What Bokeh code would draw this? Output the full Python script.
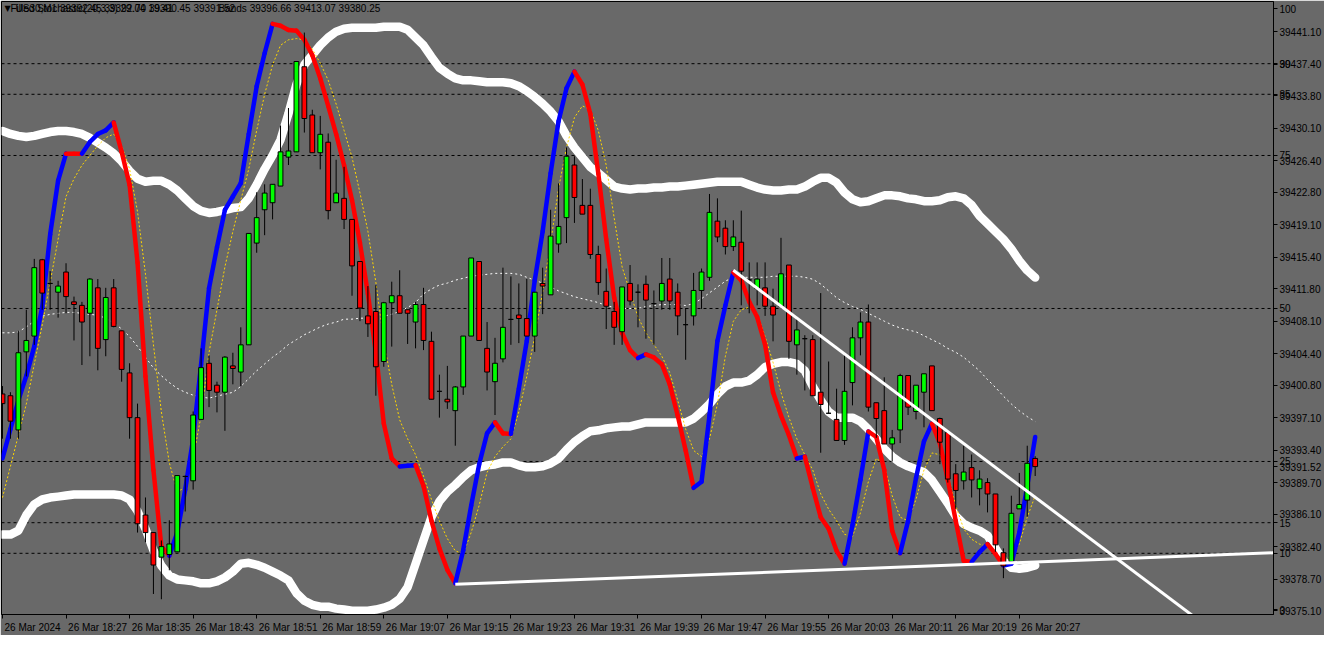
from bokeh.plotting import figure
from bokeh.models import Range1d, FixedTicker, NumeralTickFormatter, Span, Label
from bokeh.embed import file_html
from bokeh.resources import INLINE

BG = "#696969"
FONT = "Liberation Sans"

# ---------------- data (US30, M1, 26 Mar 2024 18:19 .. 20:29) ----------------
open_ = [39399.8, 39399.6, 39395.7, 39404.6, 39406.4, 39415.1, 39412.4, 39411.4, 39413.7, 39410.3,
         39409.9, 39409.0, 39411.9, 39406.0, 39411.9, 39407.0, 39402.2, 39397.1, 39386.0, 39384.0,
         39381.2, 39381.5, 39381.8, 39390.4, 39389.9, 39396.9, 39403.3, 39400.8, 39400.0, 39403.0,
         39402.3, 39405.4, 39417.0, 39420.8, 39421.6, 39423.5, 39426.8, 39427.4, 39437.1, 39431.6,
         39427.3, 39428.5, 39421.6, 39422.1, 39419.7, 39414.9, 39408.7, 39409.2, 39403.5, 39410.2,
         39411.0, 39409.4, 39408.0, 39410.0, 39405.8, 39400.1, 39399.2, 39397.9, 39400.6, 39406.4,
         39414.9, 39405.0, 39401.2, 39403.8, 39408.3, 39408.8, 39408.4, 39406.4, 39412.4, 39411.1,
         39416.9, 39419.9, 39425.9, 39421.3, 39421.3, 39415.7, 39411.5, 39409.2, 39406.9, 39412.4,
         39411.4, 39412.3, 39410.1, 39410.4, 39412.9, 39411.4, 39407.7, 39408.7, 39411.6, 39413.1,
         39419.5, 39418.7, 39416.6, 39417.1, 39412.8, 39411.8, 39411.9, 39409.8, 39409.8, 39414.5,
         39405.4, 39406.1, 39406.0, 39400.0, 39397.6, 39396.9, 39394.5, 39401.1, 39406.2, 39408.0,
         39398.8, 39397.9, 39394.1, 39395.7, 39401.9, 39397.8, 39400.0, 39403.0, 39397.0, 39395.4,
         39390.7, 39389.9, 39391.4, 39389.0, 39389.7, 39388.4, 39381.7, 39380.7, 39386.7, 39387.7,
         39392.45]
high_ = [39400.7, 39400.0, 39407.0, 39409.4, 39415.2, 39415.2, 39413.8, 39412.7, 39414.7, 39410.9,
         39410.3, 39413.0, 39412.9, 39411.9, 39412.9, 39407.0, 39403.3, 39398.7, 39388.0, 39384.0,
         39383.1, 39385.4, 39390.5, 39390.5, 39397.8, 39405.0, 39404.2, 39401.2, 39404.1, 39404.5,
         39407.4, 39418.1, 39422.8, 39423.7, 39423.7, 39430.4, 39432.4, 39437.7, 39441.0, 39432.2,
         39431.5, 39429.5, 39426.5, 39425.7, 39419.7, 39414.9, 39412.1, 39412.2, 39410.3, 39412.6,
         39413.9, 39409.4, 39410.3, 39411.9, 39406.9, 39402.0, 39403.0, 39400.7, 39406.4, 39415.3,
         39414.9, 39408.0, 39406.2, 39414.2, 39413.2, 39412.4, 39412.9, 39411.4, 39414.2, 39420.8,
         39423.8, 39427.9, 39426.9, 39424.3, 39423.2, 39416.7, 39414.1, 39410.3, 39412.0, 39414.5,
         39412.3, 39413.3, 39411.6, 39415.3, 39415.3, 39412.4, 39409.6, 39413.6, 39414.1, 39422.6,
         39422.1, 39419.6, 39419.6, 39420.7, 39414.8, 39414.8, 39414.8, 39411.8, 39417.6, 39414.5,
         39408.4, 39406.5, 39406.5, 39411.3, 39403.5, 39400.4, 39404.3, 39407.4, 39409.1, 39410.0,
         39398.8, 39401.7, 39395.7, 39402.1, 39401.9, 39400.8, 39402.1, 39403.0, 39397.1, 39395.4,
         39391.8, 39393.9, 39392.9, 39391.1, 39390.2, 39388.4, 39382.2, 39388.2, 39390.8, 39393.9,
         39392.70]
low_ = [39394.7, 39394.7, 39394.7, 39401.8, 39405.4, 39409.4, 39409.4, 39408.5, 39409.0, 39405.9,
        39403.1, 39404.1, 39402.5, 39404.1, 39407.4, 39401.2, 39394.7, 39384.0, 39382.9, 39377.0,
        39376.4, 39379.7, 39381.8, 39386.4, 39388.9, 39396.9, 39398.3, 39397.7, 39395.6, 39400.9,
        39400.7, 39405.4, 39415.9, 39417.9, 39419.7, 39423.5, 39425.9, 39427.4, 39429.6, 39427.3,
        39425.4, 39419.7, 39421.6, 39418.6, 39411.0, 39408.1, 39406.3, 39399.6, 39402.9, 39405.2,
        39409.0, 39405.5, 39405.0, 39404.8, 39399.2, 39397.1, 39398.1, 39393.9, 39399.7, 39406.4,
        39405.9, 39400.2, 39397.4, 39403.4, 39405.4, 39405.6, 39406.4, 39404.6, 39408.9, 39411.1,
        39415.9, 39417.0, 39419.3, 39420.3, 39415.2, 39411.1, 39407.2, 39405.4, 39405.4, 39409.9,
        39407.4, 39406.1, 39405.4, 39409.4, 39409.4, 39406.5, 39403.7, 39407.6, 39409.5, 39412.7,
        39417.1, 39415.7, 39416.1, 39409.9, 39409.0, 39409.9, 39408.7, 39405.8, 39409.8, 39403.8,
        39402.0, 39400.2, 39399.6, 39393.1, 39397.6, 39394.5, 39394.0, 39398.5, 39404.2, 39397.8,
        39394.8, 39394.1, 39392.1, 39394.2, 39397.4, 39396.9, 39396.0, 39397.9, 39391.8, 39389.7,
        39386.7, 39388.9, 39388.0, 39387.1, 39386.3, 39381.8, 39378.8, 39380.7, 39386.7, 39385.8,
        39390.45]
close_ = [39398.7, 39396.7, 39404.5, 39405.9, 39414.2, 39411.3, 39412.4, 39412.1, 39410.9, 39410.0,
          39408.0, 39412.9, 39405.0, 39410.8, 39407.5, 39402.6, 39397.1, 39385.0, 39384.0, 39380.3,
          39382.4, 39382.7, 39390.5, 39390.4, 39397.4, 39402.8, 39400.2, 39400.0, 39404.0, 39402.7,
          39405.4, 39418.1, 39419.9, 39422.7, 39423.7, 39427.4, 39427.5, 39437.7, 39431.2, 39427.3,
          39429.4, 39420.7, 39422.7, 39419.7, 39414.4, 39409.6, 39407.8, 39402.9, 39410.2, 39411.0,
          39409.0, 39409.0, 39410.0, 39405.9, 39399.2, 39400.1, 39398.9, 39400.6, 39406.4, 39415.3,
          39405.9, 39402.3, 39403.3, 39407.4, 39408.3, 39408.4, 39406.4, 39411.4, 39412.1, 39417.8,
          39418.9, 39426.9, 39422.2, 39420.3, 39415.7, 39412.5, 39409.8, 39407.4, 39412.0, 39410.4,
          39411.4, 39410.5, 39410.1, 39412.4, 39410.4, 39408.7, 39407.7, 39411.6, 39413.7, 39420.5,
          39417.7, 39416.6, 39417.7, 39413.8, 39412.8, 39412.9, 39409.8, 39408.8, 39413.5, 39405.8,
          39407.1, 39406.1, 39399.6, 39398.6, 39397.6, 39394.5, 39400.1, 39406.2, 39408.0, 39398.3,
          39397.0, 39394.1, 39394.8, 39401.9, 39398.3, 39400.8, 39402.1, 39397.9, 39394.3, 39390.1,
          39388.8, 39390.9, 39390.0, 39390.1, 39388.4, 39382.6, 39380.2, 39386.2, 39387.2, 39391.9,
          39391.52]

# Bollinger bands (upper / middle / lower)
band_upper = [39429.77, 39429.44, 39429.22, 39429.10, 39429.22, 39429.44, 39429.66, 39429.77, 39429.77, 39429.66,
              39429.44, 39428.99, 39428.44, 39427.88, 39427.22, 39426.33, 39425.22, 39424.33, 39423.99, 39424.10,
              39424.10, 39423.66, 39422.99, 39422.10, 39421.22, 39420.66, 39420.44, 39420.55, 39420.77, 39420.99,
              39421.10, 39422.10, 39423.66, 39425.44, 39426.99, 39428.77, 39431.77, 39435.10, 39437.33, 39438.44,
              39439.55, 39440.44, 39441.10, 39441.44, 39441.55, 39441.55, 39441.55, 39441.55, 39441.66, 39441.66,
              39441.66, 39441.33, 39440.44, 39439.55, 39438.22, 39436.99, 39436.33, 39435.77, 39435.55, 39435.55,
              39435.44, 39435.33, 39435.33, 39435.33, 39435.22, 39434.88, 39434.33, 39433.66, 39432.88, 39431.99,
              39430.88, 39429.22, 39427.88, 39426.77, 39425.66, 39424.99, 39424.22, 39423.44, 39423.22, 39423.10,
              39423.22, 39423.22, 39423.33, 39423.33, 39423.44, 39423.44, 39423.55, 39423.66, 39423.77, 39423.88,
              39423.99, 39423.99, 39423.99, 39423.99, 39423.66, 39423.33, 39423.10, 39422.99, 39422.99, 39423.10,
              39423.10, 39423.44, 39423.99, 39424.44, 39424.44, 39423.88, 39422.77, 39421.99, 39421.66, 39421.77,
              39422.10, 39422.44, 39422.44, 39422.33, 39422.10, 39421.99, 39421.77, 39421.77, 39421.88, 39422.22,
              39422.33, 39422.10, 39421.33, 39420.10, 39419.22, 39418.33, 39417.44, 39416.33, 39414.99, 39413.88,
              39413.07]
band_middle = [39406.77, 39406.77, 39406.88, 39407.44, 39408.10, 39408.66, 39408.88, 39408.99, 39409.10, 39409.10,
               39408.99, 39408.88, 39408.77, 39408.44, 39407.88, 39407.22, 39406.33, 39405.22, 39403.99, 39402.77,
               39401.88, 39401.10, 39400.44, 39399.99, 39399.66, 39399.44, 39399.33, 39399.55, 39399.77, 39399.99,
               39400.66, 39401.55, 39402.44, 39403.22, 39403.99, 39404.66, 39405.44, 39405.99, 39406.55, 39406.99,
               39407.44, 39407.77, 39407.99, 39408.33, 39408.33, 39408.44, 39408.44, 39408.55, 39408.66, 39408.88,
               39409.22, 39409.66, 39410.22, 39411.22, 39411.77, 39412.22, 39412.44, 39412.77, 39412.99, 39413.22,
               39413.33, 39413.44, 39413.55, 39413.55, 39413.55, 39413.44, 39413.10, 39412.77, 39412.44, 39411.99,
               39411.55, 39411.22, 39410.88, 39410.66, 39410.44, 39410.22, 39409.88, 39409.66, 39409.55, 39409.55,
               39409.55, 39409.77, 39409.88, 39409.99, 39409.99, 39409.99, 39409.88, 39410.10, 39410.66, 39411.33,
               39411.99, 39412.66, 39413.10, 39413.10, 39413.10, 39413.10, 39413.10, 39413.22, 39413.22, 39413.22,
               39413.22, 39413.10, 39412.88, 39412.33, 39411.55, 39410.77, 39410.22, 39409.77, 39409.44, 39408.99,
               39408.55, 39408.10, 39407.66, 39407.33, 39407.10, 39406.88, 39406.44, 39405.99, 39405.55, 39404.99,
               39404.55, 39403.99, 39403.22, 39402.44, 39401.44, 39400.55, 39399.55, 39398.66, 39397.88, 39397.22,
               39396.66]
band_lower = [39383.77, 39383.77, 39384.22, 39385.99, 39387.22, 39387.77, 39387.99, 39388.10, 39388.22, 39388.33,
              39388.33, 39388.33, 39388.33, 39388.33, 39388.33, 39388.22, 39387.77, 39386.44, 39384.44, 39381.99,
              39380.22, 39379.10, 39378.66, 39378.55, 39378.44, 39378.22, 39378.22, 39378.44, 39378.88, 39379.55,
              39380.44, 39380.55, 39380.33, 39379.99, 39379.55, 39379.10, 39378.55, 39377.10, 39376.22, 39375.77,
              39375.55, 39375.55, 39375.33, 39375.22, 39375.10, 39375.10, 39375.10, 39375.22, 39375.44, 39375.77,
              39376.44, 39377.77, 39380.44, 39383.10, 39385.77, 39387.55, 39388.66, 39389.44, 39390.33, 39391.10,
              39391.44, 39391.66, 39391.77, 39391.99, 39391.99, 39391.66, 39391.44, 39391.44, 39391.55, 39391.88,
              39392.44, 39393.44, 39394.33, 39394.99, 39395.55, 39395.66, 39395.88, 39395.99, 39396.10, 39396.10,
              39396.33, 39396.55, 39396.55, 39396.55, 39396.55, 39396.55, 39396.55, 39396.99, 39397.77, 39398.66,
              39399.77, 39400.66, 39401.10, 39401.10, 39401.33, 39401.99, 39402.88, 39403.22, 39403.44, 39403.44,
              39403.22, 39402.44, 39400.66, 39399.10, 39397.77, 39397.10, 39397.10, 39397.10, 39396.66, 39395.77,
              39394.66, 39393.55, 39392.66, 39391.99, 39391.55, 39391.22, 39390.88, 39389.99, 39388.66, 39387.33,
              39385.88, 39384.99, 39384.55, 39384.22, 39383.66, 39382.22, 39380.77, 39379.99, 39379.88, 39379.99,
              39380.25]

# Filled Stochastic: main line and signal line (0..100 scale)
stoch_main = [25.5, 30.3, 35.0, 39.0, 43.8, 50.2, 62.1, 70.9, 75.3, 75.3,
              75.3, 77.2, 78.5, 79.1, 80.4, 75.6, 70.2, 57.5, 38.9, 23.6,
              11.1, 9.6, 13.4, 20.4, 28.7, 40.9, 53.3, 60.0, 66.1, 68.3,
              70.5, 78.5, 86.3, 91.7, 96.5, 96.2, 95.5, 95.4, 93.9, 91.4,
              87.6, 83.1, 78.5, 73.4, 67.7, 60.7, 52.4, 42.8, 31.2, 25.5,
              24.2, 24.3, 24.4, 21.0, 15.3, 10.8, 7.3, 5.1, 10.5, 17.8,
              24.5, 29.6, 31.4, 29.6, 29.5, 36.9, 44.7, 54.6, 62.6, 72.1,
              80.6, 86.0, 88.7, 86.6, 81.8, 72.1, 61.3, 51.8, 46.0, 43.2,
              41.9, 42.5, 42.0, 40.9, 37.6, 32.5, 26.8, 20.7, 21.7, 32.5,
              44.7, 50.5, 55.9, 54.6, 51.1, 48.6, 44.1, 36.3, 32.5, 29.3,
              25.5, 25.8, 20.7, 15.9, 14.0, 10.4, 8.3, 14.6, 22.0, 29.9,
              29.0, 23.6, 13.7, 10.0, 15.3, 22.3, 28.3, 31.2, 28.0, 22.0,
              15.3, 8.8, 8.6, 10.2, 11.5, 9.9, 8.0, 8.3, 13.4, 21.0,
              29.0]
stoch_signal = [19.1, 24.2, 29.3, 34.4, 40.9, 47.3, 54.3, 61.3, 68.3, 71.2,
                73.4, 75.0, 76.6, 77.9, 78.5, 76.6, 72.8, 65.8, 55.6, 44.1,
                33.1, 24.8, 20.1, 20.7, 25.5, 32.5, 42.8, 49.8, 56.8, 62.6,
                67.7, 72.8, 79.1, 85.0, 89.8, 93.0, 93.9, 94.1, 93.9, 92.4,
                90.1, 87.3, 83.4, 79.1, 74.7, 68.9, 62.6, 54.3, 44.7, 37.6,
                31.8, 28.7, 26.1, 22.6, 18.8, 15.3, 12.4, 10.4, 9.9, 13.4,
                17.8, 23.2, 25.8, 27.4, 28.7, 33.1, 38.9, 45.4, 52.7, 60.7,
                69.6, 76.3, 81.2, 83.1, 82.5, 79.1, 73.4, 64.8, 56.8, 52.7,
                48.6, 46.0, 44.1, 42.2, 39.5, 35.0, 30.3, 26.8, 25.8, 28.7,
                34.4, 42.2, 47.9, 49.8, 50.2, 49.2, 45.4, 41.2, 36.3, 32.2,
                28.7, 26.1, 23.6, 19.7, 17.2, 15.3, 13.1, 12.7, 16.6, 21.7,
                25.5, 24.5, 19.4, 15.9, 15.3, 18.8, 23.6, 26.4, 26.1, 22.9,
                17.8, 14.0, 12.3, 11.5, 11.1, 10.2, 8.9, 9.6, 11.5, 15.9,
                19.4]

stoch_levels = [10, 15, 25, 50, 75, 85, 90]
stoch_level_labels = ["0", "10", "15", "25", "50", "75", "85", "90", "100"]
# where the terminal prints those labels on the scale (0 and 100 are kept inside the frame)
stoch_label_at = [0.8, 10, 15, 25, 50, 75, 85, 90, 99.0]

price_ticks = [39375.10, 39378.70, 39382.40, 39386.10, 39389.70, 39393.40, 39397.10,
               39400.80, 39404.40, 39408.10, 39411.80, 39415.40, 39419.10, 39422.80,
               39426.40, 39430.10, 39433.80, 39437.40, 39441.10]

time_tick_bars = [0, 8, 16, 24, 32, 40, 48, 56, 64, 72, 80, 88, 96, 104, 112, 120, 128]
time_tick_labels = ["26 Mar 2024", "26 Mar 18:27", "26 Mar 18:35", "26 Mar 18:43", "26 Mar 18:51",
                    "26 Mar 18:59", "26 Mar 19:07", "26 Mar 19:15", "26 Mar 19:23", "26 Mar 19:31",
                    "26 Mar 19:39", "26 Mar 19:47", "26 Mar 19:55", "26 Mar 20:03", "26 Mar 20:11",
                    "26 Mar 20:19", "26 Mar 20:27"]

# trend lines (bar index, price)
trend_support_x = [57, 160]
trend_support_y = [39378.1, 39381.7]
trend_resist_x = [92, 160]
trend_resist_y = [39413.9, 39367.6]

last_price = 39391.52
title_main = "US30,M1  39392.45 39392.70 39390.45 39391.52"
title_stoch = "Filled Stochastic(20,3,3) 29.04 19.41"
title_bands = "Bands 39396.66 39413.07 39380.25"

# ---------------- figure ----------------
n = len(close_)
bars = list(range(n))
X0, X1 = -0.125, 160.0
P0, P1 = 39374.66, 39444.54   # price range of the frame
S0, S1 = 0.0, 100.16          # stochastic range of the same frame
PX_PER_BAR = 7.93             # approx. pixels per bar (for left-aligning time labels)

p = figure(width=1324, height=635, output_backend="svg", toolbar_location=None, tools="",
           x_range=Range1d(X0, X1), y_range=Range1d(P0, P1),
           y_axis_location="right", background_fill_color=BG, border_fill_color=BG,
           min_border_left=1, min_border_top=1, min_border_right=0, min_border_bottom=18)
p.extra_y_ranges = {"stoch": Range1d(S0, S1)}
p.outline_line_color = "black"
p.outline_line_width = 1
p.xgrid.visible = False
p.ygrid.visible = False

# right scale: price ticks, stochastic level labels and the current price
stoch_pos = [P0 + (lv - S0) * (P1 - P0) / (S1 - S0) for lv in stoch_label_at]
overrides = {pos: txt for pos, txt in zip(stoch_pos, stoch_level_labels)}
overrides[last_price] = f"{last_price:.2f}"
ya = p.yaxis[0]
ya.ticker = FixedTicker(ticks=price_ticks + stoch_pos + [last_price])
ya.formatter = NumeralTickFormatter(format="0.00")
ya.major_label_overrides = overrides
ya.major_label_text_font = FONT
ya.major_label_text_font_size = "10px"
ya.major_label_text_color = "black"
ya.major_tick_in = 0
ya.major_tick_out = 4
ya.minor_tick_out = 0
ya.minor_tick_in = 0
ya.major_label_standoff = 2
ya.axis_line_color = "black"
ya.major_tick_line_color = "black"

# time axis: real ticks as minor ticks, labels centred so that they start at the tick
label_w = [56.1 if t.endswith("2024") else 58.9 for t in time_tick_labels]
label_pos = [b + (2.0 + w / 2.0) / PX_PER_BAR for b, w in zip(time_tick_bars, label_w)]
xa = p.xaxis[0]
xa.ticker = FixedTicker(ticks=label_pos, minor_ticks=time_tick_bars)
xa.major_label_overrides = {pos: t for pos, t in zip(label_pos, time_tick_labels)}
xa.major_label_text_font = FONT
xa.major_label_text_font_size = "10px"
xa.major_label_text_color = "black"
xa.major_label_standoff = 3
xa.major_tick_line_color = None
xa.major_tick_in = 0
xa.major_tick_out = 0
xa.minor_tick_in = 0
xa.minor_tick_out = 4
xa.minor_tick_line_color = "black"
xa.axis_line_color = "black"

# stochastic level lines
for lv in stoch_levels:
    p.add_layout(Span(location=lv, dimension="width", y_range_name="stoch",
                      line_color="black", line_dash="3 3", line_width=1, level="underlay"))

# bands
p.line(bars, band_middle, line_color="white", line_width=1, line_dash="2 3")
p.line(bars, band_upper, line_color="white", line_width=8.5, line_join="round", line_cap="round")
p.line(bars, band_lower, line_color="white", line_width=8.5, line_join="round", line_cap="round")

# stochastic signal + coloured main line
p.line(bars, stoch_signal, y_range_name="stoch", line_color="#ffd700", line_width=1, line_dash="2 2")
seg_x, seg_y, seg_c = [], [], []
for i in range(n - 1):
    seg_x.append([bars[i], bars[i + 1]])
    seg_y.append([stoch_main[i], stoch_main[i + 1]])
    seg_c.append("#0000ff" if stoch_main[i + 1] > stoch_main[i] else "#ff0000")
p.multi_line(seg_x, seg_y, y_range_name="stoch", line_color=seg_c, line_width=4.5, line_cap="round")

# candles
body_top = [max(o, c) for o, c in zip(open_, close_)]
body_bot = [min(o, c) for o, c in zip(open_, close_)]
body_col = ["#00ff00" if c > o else ("#ff0000" if c < o else "black") for o, c in zip(open_, close_)]
p.segment(bars, high_, bars, low_, line_color="black", line_width=1)
p.vbar(x=bars, width=0.6, top=body_top, bottom=body_bot, fill_color=body_col,
       line_color="black", line_width=1)

# trend lines
p.line(trend_support_x, trend_support_y, line_color="white", line_width=3)
p.line(trend_resist_x, trend_resist_y, line_color="white", line_width=3)

# chart titles (overlapping, as in the terminal)
p.add_layout(Label(x=X0, y=99.0, y_range_name="stoch", x_offset=3, text="\u25bc",
                   text_font="DejaVu Sans", text_font_size="8px", text_color="black",
                   text_baseline="middle"))
p.add_layout(Label(x=X0, y=99.0, y_range_name="stoch", x_offset=9, text=title_stoch,
                   text_font=FONT, text_font_size="10px", text_color="black",
                   text_baseline="middle"))
p.add_layout(Label(x=X0, y=99.0, y_range_name="stoch", x_offset=14, text=title_main,
                   text_font=FONT, text_font_size="10px", text_color="black",
                   text_baseline="middle"))
p.add_layout(Label(x=X0, y=99.0, y_range_name="stoch", x_offset=217, text=title_bands,
                   text_font=FONT, text_font_size="10px", text_color="black",
                   text_baseline="middle"))

open("out.html", "w").write(file_html(p, INLINE))
